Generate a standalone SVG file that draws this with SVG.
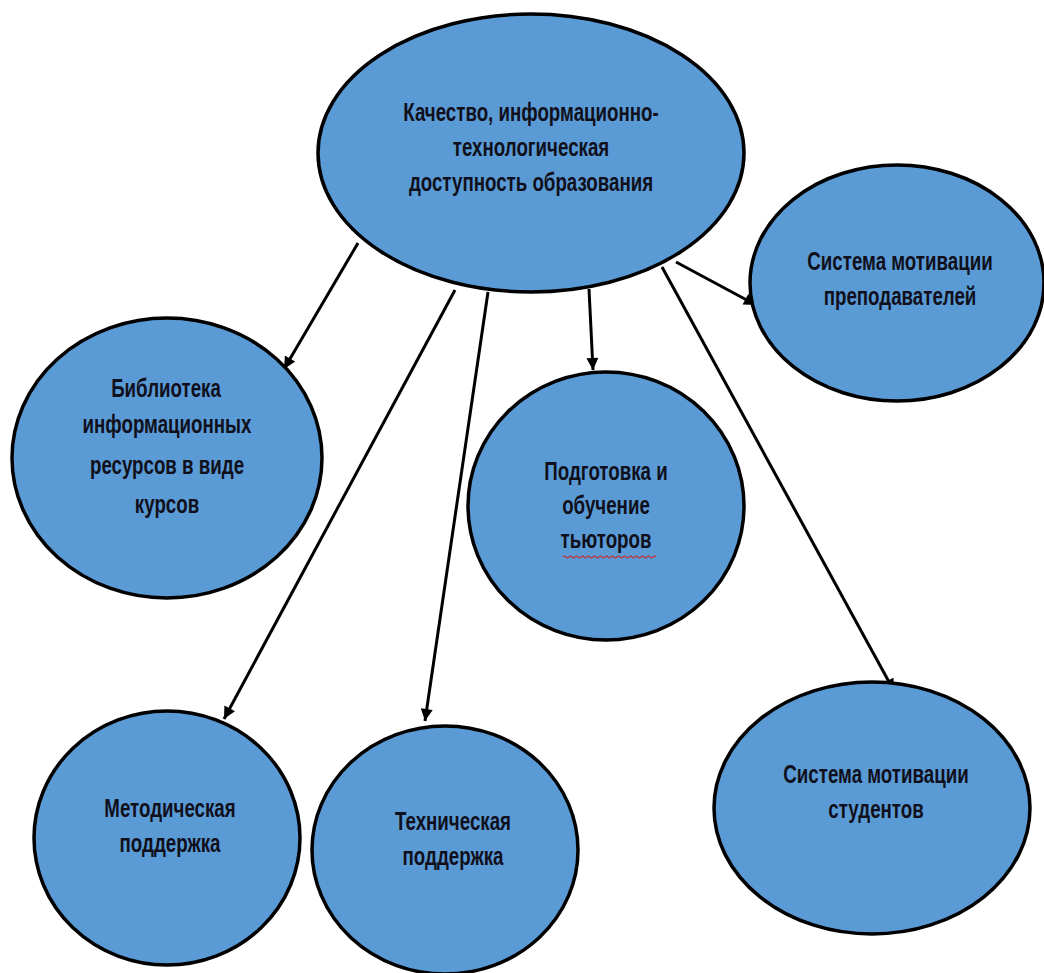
<svg xmlns="http://www.w3.org/2000/svg" width="1044" height="973" viewBox="0 0 1044 973">
  <defs>
    <marker id="arrow" viewBox="0 0 10 10" refX="10" refY="5" markerWidth="4.3" markerHeight="4" orient="auto" markerUnits="strokeWidth">
      <path d="M0,0 L10,5 L0,10 z" fill="#000"/>
    </marker>
  </defs>
  <style>
    .node { fill: #5b9bd5; stroke: #000; stroke-width: 3.5; }
    /* condensed bold lettering: wide sans squeezed horizontally */
    .label { font-family: "Liberation Sans", Arial, sans-serif; font-weight: bold; font-size: 26px; fill: #10101c; text-anchor: middle; }
    .edge { stroke: #000; stroke-width: 3; fill: none; marker-end: url(#arrow); }
    .squiggle { stroke: #d02020; stroke-width: 1.2; fill: none; }
  </style>
  <rect width="1044" height="973" fill="#fff"/>

  <!-- connectors -->
  <g id="connectors">
    <line class="edge" x1="358" y1="243" x2="284" y2="369"/>
    <line class="edge" x1="455" y1="290" x2="224" y2="719"/>
    <line class="edge" x1="488" y1="292" x2="425" y2="721"/>
    <line class="edge" x1="589" y1="289" x2="593" y2="370"/>
    <line class="edge" x1="662" y1="267" x2="894" y2="691"/>
    <line class="edge" x1="676" y1="262" x2="756" y2="305"/>
  </g>

  <g id="center">
    <ellipse class="node" cx="531" cy="153" rx="213" ry="139"/>
    <text class="label" transform="translate(531,121) scale(0.72,1)">Качество, информационно-</text>
    <text class="label" transform="translate(531,156) scale(0.72,1)">технологическая</text>
    <text class="label" transform="translate(531,191) scale(0.72,1)">доступность образования</text>
  </g>

  <g id="library">
    <ellipse class="node" cx="167" cy="458" rx="155" ry="140"/>
    <text class="label" transform="translate(166,397) scale(0.72,1)">Библиотека</text>
    <text class="label" transform="translate(167,433) scale(0.72,1)">информационных</text>
    <text class="label" transform="translate(167,474) scale(0.72,1)">ресурсов в виде</text>
    <text class="label" transform="translate(167,513) scale(0.72,1)">курсов</text>
  </g>

  <g id="tutors">
    <ellipse class="node" cx="606" cy="506" rx="138" ry="134"/>
    <text class="label" transform="translate(606,480) scale(0.72,1)">Подготовка и</text>
    <text class="label" transform="translate(606,514) scale(0.72,1)">обучение</text>
    <text class="label" transform="translate(606,548) scale(0.72,1)">тьюторов</text>
    <path class="squiggle" d="M563,557 q1.5,-2 3,0 t3,0 t3,0 t3,0 t3,0 t3,0 t3,0 t3,0 t3,0 t3,0 t3,0 t3,0 t3,0 t3,0 t3,0 t3,0 t3,0 t3,0 t3,0 t3,0 t3,0 t3,0 t3,0 t3,0 t3,0 t3,0 t3,0 t3,0 t3,0 t3,0 t3,0"/>
  </g>

  <g id="teacher-motivation">
    <ellipse class="node" cx="897" cy="283" rx="147" ry="118"/>
    <text class="label" transform="translate(900,270) scale(0.72,1)">Система мотивации</text>
    <text class="label" transform="translate(900,305) scale(0.72,1)">преподавателей</text>
  </g>

  <g id="methodical">
    <ellipse class="node" cx="167" cy="838" rx="133" ry="127"/>
    <text class="label" transform="translate(170,817) scale(0.72,1)">Методическая</text>
    <text class="label" transform="translate(170,852) scale(0.72,1)">поддержка</text>
  </g>

  <g id="technical">
    <ellipse class="node" cx="445" cy="850" rx="133" ry="124"/>
    <text class="label" transform="translate(453,830) scale(0.72,1)">Техническая</text>
    <text class="label" transform="translate(453,865) scale(0.72,1)">поддержка</text>
  </g>

  <g id="student-motivation">
    <ellipse class="node" cx="872" cy="808" rx="158" ry="126"/>
    <text class="label" transform="translate(876,783) scale(0.72,1)">Система мотивации</text>
    <text class="label" transform="translate(876,818) scale(0.72,1)">студентов</text>
  </g>
</svg>
